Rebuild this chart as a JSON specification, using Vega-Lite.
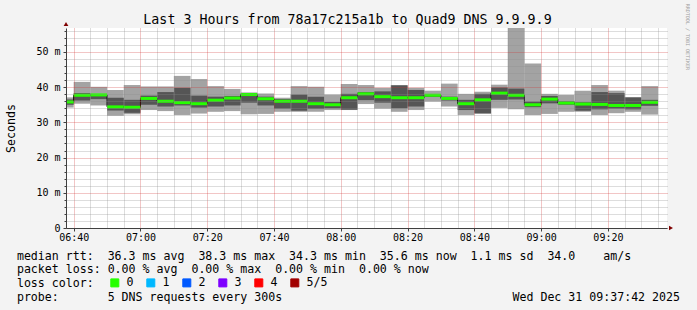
{
  "$schema": "https://vega.github.io/schema/vega-lite/v6.json",
  "width": 601,
  "height": 200,
  "autosize": {"type": "none"},
  "padding": {"left": 66, "top": 28, "right": 30, "bottom": 82},
  "background": "#f3f3f3",
  "config": {
    "view": {"fill": "#ffffff", "stroke": null},
    "font": "DejaVu Sans Mono",
    "axis": {"labelFont": "DejaVu Sans Mono", "titleFont": "DejaVu Sans Mono", "labelColor": "#000000", "titleColor": "#000000", "titleFontWeight": "normal"}
  },
  "title": {
    "text": "Last 3 Hours from 78a17c215a1b to Quad9 DNS 9.9.9.9",
    "font": "DejaVu Sans Mono",
    "fontSize": 13.3,
    "fontWeight": "normal",
    "color": "#000000",
    "anchor": "middle",
    "frame": "group",
    "baseline": "alphabetic",
    "dx": -19,
    "offset": -34
  },
  "data": {
    "values": [
      {"start": "2025-12-31T06:35:00Z", "end": "2025-12-31T06:40:00Z", "min": 34.2, "p2": 35.0, "med": 35.8, "p4": 36.5, "max": 37.1, "loss": "0"},
      {"start": "2025-12-31T06:40:00Z", "end": "2025-12-31T06:45:00Z", "min": 35.3, "p2": 36.2, "med": 37.7, "p4": 38.3, "max": 41.5, "loss": "0"},
      {"start": "2025-12-31T06:45:00Z", "end": "2025-12-31T06:50:00Z", "min": 34.8, "p2": 36.6, "med": 37.8, "p4": 38.0, "max": 40.1, "loss": "0"},
      {"start": "2025-12-31T06:50:00Z", "end": "2025-12-31T06:55:00Z", "min": 31.9, "p2": 33.4, "med": 34.4, "p4": 37.0, "max": 39.2, "loss": "0"},
      {"start": "2025-12-31T06:55:00Z", "end": "2025-12-31T07:00:00Z", "min": 32.3, "p2": 32.7, "med": 34.3, "p4": 36.4, "max": 40.6, "loss": "0"},
      {"start": "2025-12-31T07:00:00Z", "end": "2025-12-31T07:05:00Z", "min": 33.5, "p2": 35.0, "med": 36.8, "p4": 37.6, "max": 40.2, "loss": "0"},
      {"start": "2025-12-31T07:05:00Z", "end": "2025-12-31T07:10:00Z", "min": 33.2, "p2": 34.5, "med": 36.0, "p4": 38.6, "max": 40.2, "loss": "0"},
      {"start": "2025-12-31T07:10:00Z", "end": "2025-12-31T07:15:00Z", "min": 32.1, "p2": 34.8, "med": 35.6, "p4": 39.8, "max": 43.2, "loss": "0"},
      {"start": "2025-12-31T07:15:00Z", "end": "2025-12-31T07:20:00Z", "min": 32.5, "p2": 34.2, "med": 35.3, "p4": 37.6, "max": 42.3, "loss": "0"},
      {"start": "2025-12-31T07:20:00Z", "end": "2025-12-31T07:25:00Z", "min": 33.0, "p2": 34.5, "med": 36.3, "p4": 37.3, "max": 40.3, "loss": "0"},
      {"start": "2025-12-31T07:25:00Z", "end": "2025-12-31T07:30:00Z", "min": 33.2, "p2": 34.8, "med": 36.9, "p4": 37.5, "max": 39.5, "loss": "0"},
      {"start": "2025-12-31T07:30:00Z", "end": "2025-12-31T07:35:00Z", "min": 32.3, "p2": 35.6, "med": 37.9, "p4": 38.2, "max": 38.5, "loss": "0"},
      {"start": "2025-12-31T07:35:00Z", "end": "2025-12-31T07:40:00Z", "min": 32.4, "p2": 34.8, "med": 36.7, "p4": 37.3, "max": 38.2, "loss": "0"},
      {"start": "2025-12-31T07:40:00Z", "end": "2025-12-31T07:45:00Z", "min": 33.0, "p2": 33.9, "med": 36.0, "p4": 36.6, "max": 37.0, "loss": "0"},
      {"start": "2025-12-31T07:45:00Z", "end": "2025-12-31T07:50:00Z", "min": 33.0, "p2": 33.3, "med": 36.0, "p4": 37.9, "max": 40.3, "loss": "0"},
      {"start": "2025-12-31T07:50:00Z", "end": "2025-12-31T07:55:00Z", "min": 33.0, "p2": 33.9, "med": 35.3, "p4": 37.3, "max": 40.1, "loss": "0"},
      {"start": "2025-12-31T07:55:00Z", "end": "2025-12-31T08:00:00Z", "min": 33.5, "p2": 34.0, "med": 35.0, "p4": 35.8, "max": 37.9, "loss": "0"},
      {"start": "2025-12-31T08:00:00Z", "end": "2025-12-31T08:05:00Z", "min": 33.5, "p2": 33.6, "med": 37.0, "p4": 38.1, "max": 40.9, "loss": "0"},
      {"start": "2025-12-31T08:05:00Z", "end": "2025-12-31T08:10:00Z", "min": 35.2, "p2": 36.3, "med": 38.1, "p4": 38.6, "max": 40.6, "loss": "0"},
      {"start": "2025-12-31T08:10:00Z", "end": "2025-12-31T08:15:00Z", "min": 33.9, "p2": 35.6, "med": 37.3, "p4": 38.8, "max": 39.8, "loss": "0"},
      {"start": "2025-12-31T08:15:00Z", "end": "2025-12-31T08:20:00Z", "min": 33.0, "p2": 34.0, "med": 37.0, "p4": 40.5, "max": 40.6, "loss": "0"},
      {"start": "2025-12-31T08:20:00Z", "end": "2025-12-31T08:25:00Z", "min": 33.5, "p2": 34.5, "med": 37.0, "p4": 39.2, "max": 39.8, "loss": "0"},
      {"start": "2025-12-31T08:25:00Z", "end": "2025-12-31T08:30:00Z", "min": 35.9, "p2": 37.2, "med": 37.7, "p4": 38.0, "max": 39.0, "loss": "0"},
      {"start": "2025-12-31T08:30:00Z", "end": "2025-12-31T08:35:00Z", "min": 34.5, "p2": 36.2, "med": 36.8, "p4": 37.3, "max": 41.0, "loss": "0"},
      {"start": "2025-12-31T08:35:00Z", "end": "2025-12-31T08:40:00Z", "min": 32.1, "p2": 33.5, "med": 35.3, "p4": 36.4, "max": 38.1, "loss": "0"},
      {"start": "2025-12-31T08:40:00Z", "end": "2025-12-31T08:45:00Z", "min": 32.4, "p2": 32.6, "med": 36.4, "p4": 38.1, "max": 38.7, "loss": "0"},
      {"start": "2025-12-31T08:45:00Z", "end": "2025-12-31T08:50:00Z", "min": 34.1, "p2": 36.4, "med": 38.3, "p4": 39.9, "max": 40.7, "loss": "0"},
      {"start": "2025-12-31T08:50:00Z", "end": "2025-12-31T08:55:00Z", "min": 33.7, "p2": 36.5, "med": 37.7, "p4": 39.6, "max": 56.8, "loss": "0"},
      {"start": "2025-12-31T08:55:00Z", "end": "2025-12-31T09:00:00Z", "min": 32.1, "p2": 34.3, "med": 35.0, "p4": 35.9, "max": 46.7, "loss": "0"},
      {"start": "2025-12-31T09:00:00Z", "end": "2025-12-31T09:05:00Z", "min": 32.4, "p2": 35.4, "med": 36.6, "p4": 37.5, "max": 38.1, "loss": "0"},
      {"start": "2025-12-31T09:05:00Z", "end": "2025-12-31T09:10:00Z", "min": 33.0, "p2": 35.0, "med": 35.5, "p4": 36.0, "max": 37.8, "loss": "0"},
      {"start": "2025-12-31T09:10:00Z", "end": "2025-12-31T09:15:00Z", "min": 33.0, "p2": 33.3, "med": 35.2, "p4": 35.7, "max": 39.0, "loss": "0"},
      {"start": "2025-12-31T09:15:00Z", "end": "2025-12-31T09:20:00Z", "min": 32.1, "p2": 33.7, "med": 35.1, "p4": 38.6, "max": 40.6, "loss": "0"},
      {"start": "2025-12-31T09:20:00Z", "end": "2025-12-31T09:25:00Z", "min": 32.6, "p2": 33.9, "med": 34.8, "p4": 38.3, "max": 39.0, "loss": "0"},
      {"start": "2025-12-31T09:25:00Z", "end": "2025-12-31T09:30:00Z", "min": 33.0, "p2": 33.7, "med": 34.8, "p4": 37.1, "max": 37.1, "loss": "0"},
      {"start": "2025-12-31T09:30:00Z", "end": "2025-12-31T09:35:00Z", "min": 32.2, "p2": 34.7, "med": 35.7, "p4": 36.4, "max": 40.3, "loss": "0"}
    ]
  },
  "layer": [
    {
      "mark": {"type": "rect", "color": "#a3a3a3", "clip": true},
      "encoding": {
        "x": {
          "field": "start", "type": "temporal",
          "scale": {"type": "utc", "nice": false, "domain": [
            {"year": 2025, "month": 12, "date": 31, "hours": 6, "minutes": 37, "seconds": 42, "utc": true},
            {"year": 2025, "month": 12, "date": 31, "hours": 9, "minutes": 37, "seconds": 42, "utc": true}
          ]},
          "axis": {"orient": "bottom", "values": [
            {"year": 2025, "month": 12, "date": 31, "hours": 6, "minutes": 45, "utc": true},
            {"year": 2025, "month": 12, "date": 31, "hours": 6, "minutes": 50, "utc": true},
            {"year": 2025, "month": 12, "date": 31, "hours": 6, "minutes": 55, "utc": true},
            {"year": 2025, "month": 12, "date": 31, "hours": 7, "minutes": 5, "utc": true},
            {"year": 2025, "month": 12, "date": 31, "hours": 7, "minutes": 10, "utc": true},
            {"year": 2025, "month": 12, "date": 31, "hours": 7, "minutes": 15, "utc": true},
            {"year": 2025, "month": 12, "date": 31, "hours": 7, "minutes": 25, "utc": true},
            {"year": 2025, "month": 12, "date": 31, "hours": 7, "minutes": 30, "utc": true},
            {"year": 2025, "month": 12, "date": 31, "hours": 7, "minutes": 35, "utc": true},
            {"year": 2025, "month": 12, "date": 31, "hours": 7, "minutes": 45, "utc": true},
            {"year": 2025, "month": 12, "date": 31, "hours": 7, "minutes": 50, "utc": true},
            {"year": 2025, "month": 12, "date": 31, "hours": 7, "minutes": 55, "utc": true},
            {"year": 2025, "month": 12, "date": 31, "hours": 8, "minutes": 5, "utc": true},
            {"year": 2025, "month": 12, "date": 31, "hours": 8, "minutes": 10, "utc": true},
            {"year": 2025, "month": 12, "date": 31, "hours": 8, "minutes": 15, "utc": true},
            {"year": 2025, "month": 12, "date": 31, "hours": 8, "minutes": 25, "utc": true},
            {"year": 2025, "month": 12, "date": 31, "hours": 8, "minutes": 30, "utc": true},
            {"year": 2025, "month": 12, "date": 31, "hours": 8, "minutes": 35, "utc": true},
            {"year": 2025, "month": 12, "date": 31, "hours": 8, "minutes": 45, "utc": true},
            {"year": 2025, "month": 12, "date": 31, "hours": 8, "minutes": 50, "utc": true},
            {"year": 2025, "month": 12, "date": 31, "hours": 8, "minutes": 55, "utc": true},
            {"year": 2025, "month": 12, "date": 31, "hours": 9, "minutes": 5, "utc": true},
            {"year": 2025, "month": 12, "date": 31, "hours": 9, "minutes": 10, "utc": true},
            {"year": 2025, "month": 12, "date": 31, "hours": 9, "minutes": 15, "utc": true},
            {"year": 2025, "month": 12, "date": 31, "hours": 9, "minutes": 25, "utc": true},
            {"year": 2025, "month": 12, "date": 31, "hours": 9, "minutes": 30, "utc": true},
            {"year": 2025, "month": 12, "date": 31, "hours": 9, "minutes": 35, "utc": true}
          ], "labels": false, "ticks": false, "domain": false, "grid": true, "gridColor": "#8c8c8c", "gridOpacity": 0.6, "gridDash": [1, 1], "title": null, "zindex": 1}
        },
        "x2": {"field": "end"},
        "y": {
          "field": "min", "type": "quantitative",
          "scale": {"domain": [0, 56.8], "nice": false, "zero": true},
          "axis": {"orient": "left", "values": [2, 4, 6, 8, 12, 14, 16, 18, 22, 24, 26, 28, 32, 34, 36, 38, 42, 44, 46, 48, 52, 54, 56], "labels": false, "ticks": true, "tickSize": 2, "tickColor": "#404040", "domain": false, "grid": true, "gridColor": "#8c8c8c", "gridOpacity": 0.6, "gridDash": [1, 1], "title": null, "zindex": 1}
        },
        "y2": {"field": "max"}
      }
    },
    {
      "mark": {"type": "rect", "color": "#555555", "clip": true},
      "encoding": {
        "x": {
          "field": "start", "type": "temporal",
          "axis": {
            "orient": "bottom", "values": [
              {"year": 2025, "month": 12, "date": 31, "hours": 6, "minutes": 40, "utc": true},
              {"year": 2025, "month": 12, "date": 31, "hours": 7, "minutes": 0, "utc": true},
              {"year": 2025, "month": 12, "date": 31, "hours": 7, "minutes": 20, "utc": true},
              {"year": 2025, "month": 12, "date": 31, "hours": 7, "minutes": 40, "utc": true},
              {"year": 2025, "month": 12, "date": 31, "hours": 8, "minutes": 0, "utc": true},
              {"year": 2025, "month": 12, "date": 31, "hours": 8, "minutes": 20, "utc": true},
              {"year": 2025, "month": 12, "date": 31, "hours": 8, "minutes": 40, "utc": true},
              {"year": 2025, "month": 12, "date": 31, "hours": 9, "minutes": 0, "utc": true},
              {"year": 2025, "month": 12, "date": 31, "hours": 9, "minutes": 20, "utc": true}
            ],
            "format": "%H:%M",
            "labelFontSize": 10, "labelPadding": 1, "labelFlush": false, "labelOverlap": false,
            "tickSize": 3, "tickColor": "#404040", "domainColor": "#404040",
            "grid": true, "gridColor": "#d03030", "gridOpacity": 0.55, "gridDash": [1, 1],
            "title": [
              "median\u00a0rtt:\u00a0\u00a036.3\u00a0ms\u00a0avg\u00a0\u00a038.3\u00a0ms\u00a0max\u00a0\u00a034.3\u00a0ms\u00a0min\u00a0\u00a035.6\u00a0ms\u00a0now\u00a0\u00a01.1\u00a0ms\u00a0sd\u00a0\u00a034.0\u00a0\u00a0\u00a0\u00a0am/s",
              "packet\u00a0loss:\u00a00.00\u00a0%\u00a0avg\u00a0\u00a00.00\u00a0%\u00a0max\u00a0\u00a00.00\u00a0%\u00a0min\u00a0\u00a00.00\u00a0%\u00a0now",
              "loss\u00a0color:",
              "probe:\u00a0\u00a0\u00a0\u00a0\u00a0\u00a0\u00a05\u00a0DNS\u00a0requests\u00a0every\u00a0300s\u00a0\u00a0\u00a0\u00a0\u00a0\u00a0\u00a0\u00a0\u00a0\u00a0\u00a0\u00a0\u00a0\u00a0\u00a0\u00a0\u00a0\u00a0\u00a0\u00a0\u00a0\u00a0\u00a0\u00a0\u00a0\u00a0\u00a0\u00a0\u00a0\u00a0\u00a0\u00a0\u00a0Wed\u00a0Dec\u00a031\u00a009:37:42\u00a02025"
            ],
            "titleFontSize": 11.6, "titleLineHeight": 13.7, "titleX": -49.6, "titleY": 31,
            "titleAlign": "left", "titleAnchor": "start", "titleBaseline": "alphabetic",
            "zindex": 1
          }
        },
        "x2": {"field": "end"},
        "y": {
          "field": "p2", "type": "quantitative",
          "axis": {
            "orient": "left", "values": [0, 10, 20, 30, 40, 50],
            "labelExpr": "datum.value == 0 ? '0' : datum.value + ' m'",
            "labelFontSize": 10, "labelPadding": 3, "labelOverlap": false,
            "tickSize": 3, "tickColor": "#404040", "domainColor": "#404040",
            "grid": true, "gridColor": "#d03030", "gridOpacity": 0.55, "gridDash": [1, 1],
            "title": "Seconds", "titleFontSize": 11.6, "titleX": -55, "titleY": 100,
            "titleAngle": -90, "titleAlign": "center", "titleBaseline": "middle",
            "zindex": 1
          }
        },
        "y2": {"field": "p4"}
      }
    },
    {
      "mark": {"type": "line", "interpolate": "step-after", "color": "#000000", "strokeWidth": 1, "clip": true},
      "encoding": {
        "x": {"field": "start", "type": "temporal", "axis": null},
        "y": {"field": "med", "type": "quantitative", "axis": null}
      }
    },
    {
      "mark": {"type": "rule", "strokeWidth": 3, "clip": true},
      "encoding": {
        "x": {"field": "start", "type": "temporal", "axis": null},
        "x2": {"field": "end"},
        "y": {
          "field": "med", "type": "quantitative",
          "axis": {"orient": "right", "labels": false, "ticks": false, "domain": false, "grid": false,
            "title": "RRDTOOL / TOBI OETIKER", "titleFontSize": 5, "titleColor": "#a0a0a0",
            "titleAngle": 90, "titleX": 20, "titleY": -24.7, "titleAlign": "left", "titleBaseline": "middle"}
        },
        "color": {
          "field": "loss", "type": "nominal",
          "scale": {"domain": ["0", "1", "2", "3", "4", "5/5"], "range": ["#26ff00", "#00b8ff", "#0059ff", "#7e00ff", "#ff0000", "#a10000"]},
          "legend": {
            "orient": "none", "legendX": 43, "legendY": 249, "direction": "horizontal",
            "title": null,
            "labelFont": "DejaVu Sans Mono", "labelFontSize": 11.6, "labelColor": "#000000", "labelOffset": 6,
            "symbolType": "square", "symbolSize": 64, "columnPadding": 10,
            "symbolStrokeColor": "#000000", "symbolStrokeWidth": 1, "symbolOpacity": 1,
            "encode": {"symbols": {"update": {
              "fill": {"scale": "color", "field": "value"},
              "stroke": {"value": "#000000"},
              "strokeWidth": {"value": 1},
              "opacity": {"value": 1}
            }}}
          }
        }
      }
    },
    {
      "data": {"values": [{"t": "2025-12-31T06:37:42Z", "v": 56.8}]},
      "mark": {"type": "point", "shape": "triangle-up", "filled": true, "color": "#7f0000", "size": 22, "opacity": 1, "yOffset": -4, "clip": false},
      "encoding": {
        "x": {"field": "t", "type": "temporal", "axis": null},
        "y": {"field": "v", "type": "quantitative", "axis": null}
      }
    },
    {
      "data": {"values": [{"t": "2025-12-31T09:37:42Z", "v": 0}]},
      "mark": {"type": "point", "shape": "triangle-right", "filled": true, "color": "#7f0000", "size": 22, "opacity": 1, "xOffset": 4, "clip": false},
      "encoding": {
        "x": {"field": "t", "type": "temporal", "axis": null},
        "y": {"field": "v", "type": "quantitative", "axis": null}
      }
    }
  ],
  "resolve": {"axis": {"x": "independent", "y": "independent"}}
}
